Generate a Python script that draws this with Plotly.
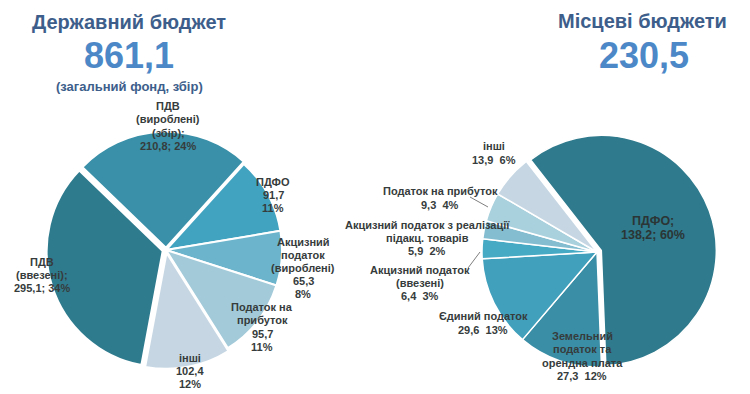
import plotly.graph_objects as go

W, H = 750, 394

# ---------------- data ----------------
state_labels = ["ПДВ<br>(вироблені)<br>(збір);", "ПДФО", "Акцизний<br>податок<br>(вироблені)",
                "Податок на<br>прибуток", "інші", "ПДВ<br>(ввезені);"]
state_values = [210.8, 91.7, 65.3, 95.7, 102.4, 295.1]
state_pcts = [24, 11, 8, 11, 12, 34]
state_total = "861,1"

local_labels = ["ПДФО;", "Земельний<br>податок та<br>орендна плата", "Єдиний податок",
                "Акцизний податок<br>(ввезені)", "Акцизний податок з реалізації<br>підакц. товарів",
                "Податок на прибуток", "інші"]
local_values = [138.2, 27.3, 29.6, 6.4, 5.9, 9.3, 13.9]
local_pcts = [60, 12, 13, 3, 2, 4, 6]
local_total = "230,5"

state_colors = ["#3990a8", "#42a3c0", "#6cb4cb", "#a2cad9", "#c6d7e3", "#2f7b8e"]
local_colors = ["#2f7a8c", "#3a8ea6", "#41a0bc", "#46aac5", "#84bdd0", "#a8d0dd", "#c6d7e3"]


def fmt(v):
    return f"{v:.1f}".replace(".", ",")


def px2paper(x, y):
    return x / W, 1 - y / H


def domain(cx, cy, R):
    x0, y0 = px2paper(cx - R, cy + R)
    x1, y1 = px2paper(cx + R, cy - R)
    return dict(x=[x0, x1], y=[y0, y1])


fig = go.Figure()

state_pull = [0.02, 0, 0, 0, 0.025, 0.03]
fig.add_trace(go.Pie(
    values=state_values, labels=[l.replace("<br>", " ") for l in state_labels],
    sort=False, direction="clockwise", rotation=-46,
    marker=dict(colors=state_colors, line=dict(color="white", width=2)),
    pull=state_pull, textinfo="none", hoverinfo="label+value+percent",
    domain=domain(166, 250, 116 * 1.03), showlegend=False,
))

local_pull = [0.04, 0, 0, 0, 0, 0, 0]
fig.add_trace(go.Pie(
    values=local_values, labels=[l.replace("<br>", " ") for l in local_labels],
    sort=False, direction="clockwise", rotation=-38,
    marker=dict(colors=local_colors, line=dict(color="white", width=1.5)),
    pull=local_pull, textinfo="none", hoverinfo="label+value+percent",
    domain=domain(597, 252, 115 * 1.04), showlegend=False,
))

FONT = "Liberation Sans, Arial, sans-serif"
TXT = "#363c3c"
ann = []


def add(x, y, text, size=11, color=TXT, bold=True, spacing=13.2):
    lines = text.split("<br>")
    n = len(lines)
    for i, line in enumerate(lines):
        yy = y + (i - (n - 1) / 2) * spacing
        xp, yp = px2paper(x, yy)
        t = f"<b>{line}</b>" if bold else line
        ann.append(dict(x=xp, y=yp, xref="paper", yref="paper", text=t, showarrow=False,
                        xanchor="center", yanchor="middle", align="center",
                        font=dict(family=FONT, size=size, color=color)))


# titles
add(129, 22, "Державний бюджет", size=20, color="#3d5e8b")
add(129, 56, state_total, size=36, color="#4c88c8")
add(129, 87, "(загальний фонд, збір)", size=13, color="#3d5e8b")
add(642, 21, "Місцеві бюджети", size=20, color="#3d5e8b")
add(644, 56, local_total, size=36, color="#4c88c8")

# state labels
state_text = [
    f"{state_labels[0]}<br>{fmt(state_values[0])}; {state_pcts[0]}%",
    f"{state_labels[1]}<br>{fmt(state_values[1])}<br>{state_pcts[1]}%",
    f"{state_labels[2]}<br>{fmt(state_values[2])}<br>{state_pcts[2]}%",
    f"{state_labels[3]}<br>{fmt(state_values[3])}<br>{state_pcts[3]}%",
    f"{state_labels[4]}<br>{fmt(state_values[4])}<br>{state_pcts[4]}%",
    f"{state_labels[5]}<br>{fmt(state_values[5])}; {state_pcts[5]}%",
]
state_pos = [(168, 126), (273, 195), (303, 268), (262, 327), (190, 371), (42, 275)]
for (x, y), t in zip(state_pos, state_text):
    add(x, y, t)

# local labels
local_text = [f"{local_labels[0]}<br>{fmt(local_values[0])}; {local_pcts[0]}%"] + [
    f"{l}<br>{fmt(v)}  {p}%" for l, v, p in zip(local_labels[1:], local_values[1:], local_pcts[1:])
]
local_pos = [(653, 228), (582, 356), (483, 323), (420, 283), (427, 238), (440, 198), (494, 153)]
for i, ((x, y), t) in enumerate(zip(local_pos, local_text)):
    if i == 0:
        add(x, y, t, size=12.5, color="#2b3535", spacing=14.5)
    else:
        add(x, y, t)

fig.update_layout(
    width=W, height=H, margin=dict(l=0, r=0, t=0, b=0),
    paper_bgcolor="white", plot_bgcolor="white",
    annotations=ann,
    shapes=[
        dict(type="line", xref="paper", yref="paper",
             x0=470 / W, y0=1 - 197 / H, x1=488 / W, y1=1 - 207 / H,
             line=dict(color="#7f7f7f", width=1)),
        dict(type="line", xref="paper", yref="paper",
             x0=468 / W, y0=1 - 268 / H, x1=480 / W, y1=1 - 252 / H,
             line=dict(color="#7f7f7f", width=1)),
    ],
)

fig.write_html("out.html", config={"displayModeBar": False},
               post_script="document.body.style.margin='0px';")
